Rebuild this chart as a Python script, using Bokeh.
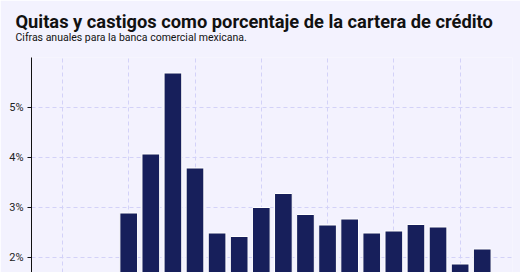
from bokeh.plotting import figure
from bokeh.models import Range1d, FixedTicker, Title, CustomJSTickFormatter
from bokeh.embed import file_html
from bokeh.resources import INLINE

years = [2007, 2008, 2009, 2010, 2011, 2012, 2013, 2014, 2015, 2016, 2017, 2018, 2019, 2020, 2021, 2022, 2023]
values = [2.89, 4.07, 5.69, 3.79, 2.49, 2.42, 3.00, 3.28, 2.86, 2.65, 2.77, 2.49, 2.53, 2.66, 2.61, 1.87, 2.17]
y_ticks = [2, 3, 4, 5]
x_grid_ticks = [2004, 2007, 2010, 2013, 2016, 2019, 2022]

title_text = "Quitas y castigos como porcentaje de la cartera de crédito"
subtitle_text = "Cifras anuales para la banca comercial mexicana."

BG = "#f3f2fe"
BAR = "#171f5b"
GRID = "#d3d2f8"

p = figure(width=520, height=272, output_backend="svg", toolbar_location=None,
           x_range=Range1d(2002.6, 2024.37), y_range=Range1d(1.7, 6.0),
           background_fill_color=BG, border_fill_color=BG,
           min_border_left=31, min_border_right=8, min_border_bottom=0, min_border_top=0)
p.outline_line_color = None

p.vbar(x=years, top=values, bottom=0, width=0.8, fill_color=BAR, line_color="white", line_width=1)

p.xaxis.visible = False
p.xgrid.ticker = FixedTicker(ticks=x_grid_ticks)
p.xgrid.grid_line_color = GRID
p.xgrid.grid_line_dash = "4 3"
p.ygrid.grid_line_color = GRID
p.ygrid.grid_line_dash = "4 3"

p.yaxis.ticker = FixedTicker(ticks=y_ticks)
p.yaxis.formatter = CustomJSTickFormatter(code="return tick + '%';")
p.yaxis.major_tick_out = 4
p.yaxis.major_tick_in = 0
p.yaxis.minor_tick_line_color = None
p.yaxis.axis_line_color = "#111111"
p.yaxis.major_tick_line_color = "#111111"
p.yaxis.major_label_text_font = "Roboto"
p.yaxis.major_label_text_font_size = "11px"
p.yaxis.major_label_text_color = "#222222"
p.yaxis.major_label_standoff = 4

inner_spacer = Title(text=" ", text_font_size="2px", standoff=12.5)
p.add_layout(inner_spacer, "above")
sub = Title(text=subtitle_text, text_font="Roboto", text_font_size="10.5px", text_font_style="normal",
            text_color="#111111", offset=-16, standoff=-7.5)
p.add_layout(sub, "above")
main = Title(text=title_text, text_font="Roboto", text_font_size="18.3px", text_font_style="bold",
             text_color="#111111", offset=-16, standoff=2)
p.add_layout(main, "above")
spacer = Title(text=" ", text_font_size="4px", standoff=0)
p.add_layout(spacer, "above")

open("out.html", "w").write(file_html(p, INLINE))
